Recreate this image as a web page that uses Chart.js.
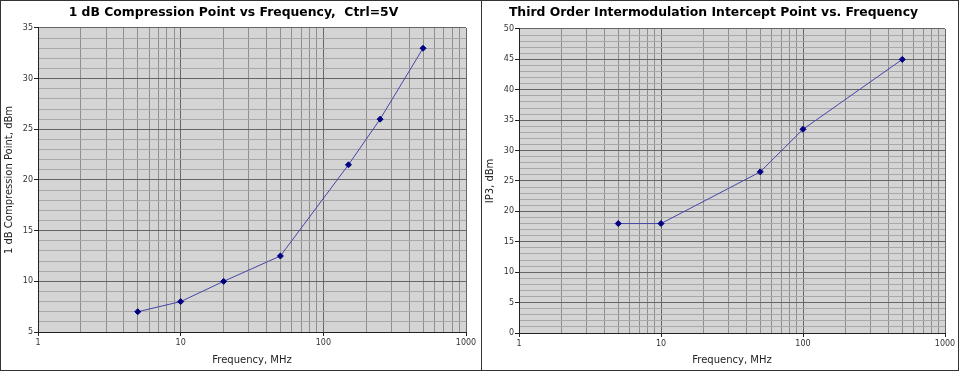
<!DOCTYPE html>
<html>
<head>
<meta charset="utf-8">
<script src="https://cdn.jsdelivr.net/npm/chart.js@4.4.1/dist/chart.umd.min.js"></script>
<style>
  body { margin: 0; background: #fff; width: 960px; height: 372px; position: relative; overflow: hidden; }
  .box { position: absolute; top: 0; height: 371px; border: 1px solid #333; box-sizing: border-box; background: #fff; }
  #leftBox { left: 0; width: 482px; }
  #rightBox { left: 481px; width: 478px; }
  canvas { display: block; }
</style>
</head>
<body>
<div class="box" id="leftBox"><canvas id="compChart" width="480" height="369"></canvas></div>
<div class="box" id="rightBox"><canvas id="ip3Chart" width="476" height="369"></canvas></div>
<script>
// 1 dB compression point
const compFreq = [5, 10, 20, 50, 150, 250, 500];
const compDbm = [7, 8, 10, 12.5, 21.5, 26, 33];

// third order intercept
const ip3Freq = [5, 10, 50, 100, 500];
const ip3Dbm = [18, 18, 26.5, 33.5, 45];

const freqTickLabels = [1, 10, 100, 1000];

// log grid: 1..9 in every decade
const freqGrid = [];
freqTickLabels.forEach(d => {
  for (let k = 1; k <= 9; k++) {
    if (d * k <= 1000) freqGrid.push(d * k);
  }
});

const plotBackground = {
  id: 'plotBackground',
  beforeDraw(chart) {
    const {ctx, chartArea: a} = chart;
    ctx.save();
    ctx.fillStyle = '#d4d4d4';
    ctx.fillRect(a.left, a.top, a.right - a.left, a.bottom - a.top);
    ctx.restore();
  }
};

function drawChart(id, freq, vals, head, yTitle, yMin, yMax, dims) {
  const xs = freq.map((f, i) => ({x: f, y: vals[i]}));
  return new Chart(id, {
    type: 'line',
    data: {
      datasets: [{
        data: xs,
        borderColor: '#4646a8',
        borderWidth: 1,
        backgroundColor: '#000080',
        pointBackgroundColor: '#000080',
        pointBorderColor: '#000080',
        pointStyle: 'rectRot',
        pointRadius: 3,
        tension: 0,
        fill: false
      }]
    },
    options: {
      responsive: false,
      animation: false,
      layout: { padding: { right: dims.right, left: 0, bottom: 0, top: 0 } },
      plugins: {
        legend: { display: false },
        tooltip: { enabled: false },
        title: {
          display: true,
          text: head,
          color: '#000',
          font: { family: 'DejaVu Sans', size: 12.4, weight: 'bold' },
          padding: { top: 4.2, bottom: dims.titleBottom }
        }
      },
      scales: {
        x: {
          type: 'logarithmic',
          min: 1,
          max: 1000,
          afterBuildTicks: s => { s.ticks = freqGrid.map(v => ({value: v, major: freqTickLabels.includes(v)})); },
          afterFit: s => { s.height = dims.xHeight; },
          border: { color: '#222', width: 1 },
          grid: {
            color: c => freqTickLabels.includes(c.tick && c.tick.value) ? '#666' : '#8e8e8e',
            tickColor: c => freqTickLabels.includes(c.tick && c.tick.value) ? '#222' : 'rgba(0,0,0,0)',
            tickLength: 4,
            lineWidth: 1
          },
          ticks: {
            autoSkip: false,
            maxRotation: 0,
            padding: 2,
            color: '#333',
            font: { family: 'DejaVu Sans', size: 8 },
            callback: v => freqTickLabels.includes(v) ? String(v) : ''
          },
          title: {
            display: true,
            text: 'Frequency, MHz',
            color: '#222',
            font: { family: 'DejaVu Sans', size: 10 },
            padding: { top: 2, bottom: 4 }
          }
        },
        y: {
          min: yMin,
          max: yMax,
          afterFit: s => { s.width = 37; },
          border: { color: '#222', width: 1 },
          grid: {
            color: c => (c.tick && c.tick.value % 5 === 0) ? '#666' : '#a8a8a8',
            tickColor: c => (c.tick && c.tick.value % 5 === 0) ? '#222' : 'rgba(0,0,0,0)',
            tickLength: 4,
            lineWidth: 1
          },
          ticks: {
            stepSize: 1,
            maxTicksLimit: 100,
            autoSkip: false,
            padding: 1,
            color: '#333',
            font: { family: 'DejaVu Sans', size: 8 },
            callback: v => v % 5 === 0 ? String(v) : ''
          },
          title: {
            display: true,
            text: yTitle,
            color: '#222',
            font: { family: 'DejaVu Sans', size: 10 },
            padding: { top: 2, bottom: 2 }
          }
        }
      }
    },
    plugins: [plotBackground]
  });
}

drawChart('compChart', compFreq, compDbm,
  '1 dB Compression Point vs Frequency,  Ctrl=5V', '1 dB Compression Point, dBm', 5, 35,
  { right: 15, titleBottom: 7.9, xHeight: 38 });
drawChart('ip3Chart', ip3Freq, ip3Dbm,
  'Third Order Intermodulation Intercept Point vs. Frequency', 'IP3, dBm', 0, 50,
  { right: 13, titleBottom: 8.9, xHeight: 37 });
</script>
</body>
</html>
